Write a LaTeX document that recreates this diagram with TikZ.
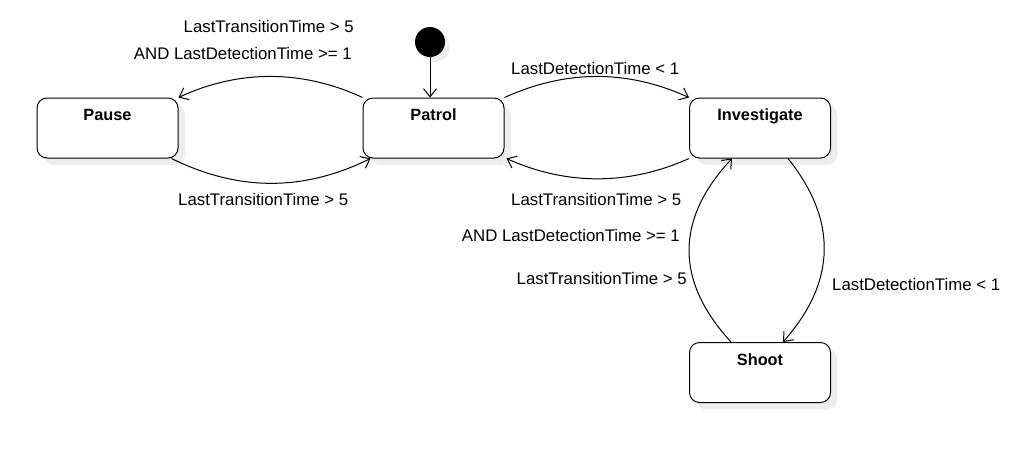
\documentclass[tikz,border=0pt]{standalone}
\usepackage{fontspec}
\setmainfont{Liberation Sans}
\usetikzlibrary{arrows.meta,shadows}
\begin{document}
\begin{tikzpicture}[x=1pt,y=-1pt,
  every node/.style={font=\fontsize{16.8}{20}\selectfont},
  statebox/.style={draw=black, line width=1pt, rounded corners=10pt, fill=white,
    minimum width=141pt, minimum height=60pt, inner sep=0pt,
    font=\fontsize{16.3}{20}\selectfont\bfseries,
    text height=12pt, text depth=27pt,
    general shadow={fill=black!7, shadow xshift=7pt, shadow yshift=-7pt}},
  initdot/.style={circle, fill=black, minimum size=30pt, inner sep=0pt,
    general shadow={fill=black!7, shadow xshift=5pt, shadow yshift=-5pt}},
  trans/.style={draw=black, line width=1pt, -{Straight Barb[length=8pt,width=13pt,line width=1pt]}},
  guard/.style={inner sep=0pt}
]
\useasboundingbox (0,0) rectangle (1024,451);

\node[statebox] (pause) at (107.5,128) {Pause};
\node[statebox] (patrol) at (433.5,128) {Patrol};
\node[statebox] (investigate) at (760,128) {Investigate};
\node[statebox] (shoot) at (760,372.5) {Shoot};
\node[initdot] (init) at (430,42) {};

\draw[trans] (init) -- (init |- patrol.north);

\draw[trans] (patrol.north west) .. controls +(-60,-28) and +(60,-28) .. (pause.north east);
\draw[trans] ([xshift=-7pt]pause.south east) .. controls +(67,33) and +(-67,33) .. ([xshift=8pt]patrol.south west);
\draw[trans] (patrol.north east) .. controls +(62,-28) and +(-62,-28) .. (investigate.north west);
\draw[trans] (investigate.south west) .. controls +(-60,27) and +(60,27) .. ([xshift=2pt]patrol.south east);
\draw[trans] ([xshift=28pt]investigate.south) .. controls +(49,61) and +(54,-61) .. ([xshift=23pt]shoot.north);
\draw[trans] ([xshift=-29pt]shoot.north) .. controls +(-56,-61) and +(-57,61) .. ([xshift=-28pt]investigate.south);

\node[guard, anchor=base east] (g1) at (354,32) {LastTransitionTime > 5};
\node[guard, anchor=base east] (g2) at (352,59) {AND LastDetectionTime >= 1};
\node[guard, anchor=base west] (g3) at (178,205) {LastTransitionTime > 5};
\node[guard, anchor=base west] (g4) at (511,74) {LastDetectionTime < 1};
\node[guard, anchor=base west] (g5) at (511,205) {LastTransitionTime > 5};
\node[guard, anchor=base east] (g6) at (680,241) {AND LastDetectionTime >= 1};
\node[guard, anchor=base east] (g7) at (687,284) {LastTransitionTime > 5};
\node[guard, anchor=base west] (g8) at (832,290) {LastDetectionTime < 1};
\end{tikzpicture}
\end{document}
